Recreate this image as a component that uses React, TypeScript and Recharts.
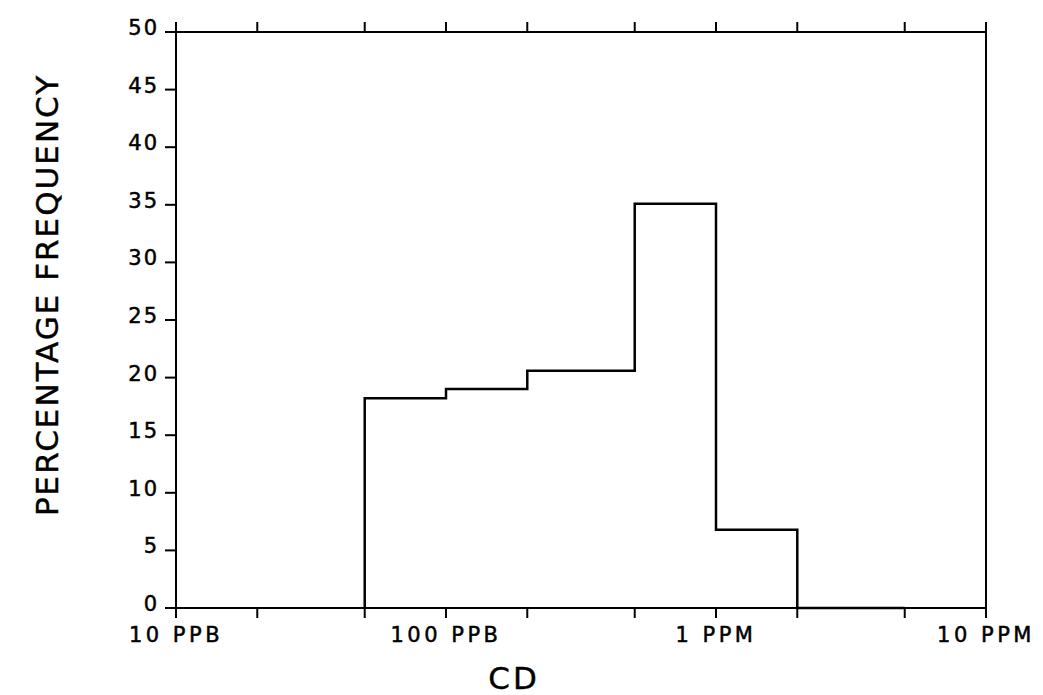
import React from "react";
import { ComposedChart, Line, XAxis, YAxis } from "recharts";

// bin edges in PPB and the percentage frequency of each bin
const binEdges = [50, 100, 200, 500, 1000, 2000, 5000];
const percentFreq = [18.2, 19.0, 20.6, 35.1, 6.8, 0];

const xTicks = [10, 20, 50, 100, 200, 500, 1000, 2000, 5000, 10000];
const majorTicks = [10, 100, 1000, 10000];
const majorLabels = ["10 PPB", "100 PPB", "1 PPM", "10 PPM"];
const yTicks = [0, 5, 10, 15, 20, 25, 30, 35, 40, 45, 50];

const stepData = [
  { x: binEdges[0], y: 0 },
  ...percentFreq.map((v, i) => ({ x: binEdges[i], y: v })),
  { x: binEdges[binEdges.length - 1], y: 0 },
];

const FONT = "'DejaVu Sans', sans-serif";

const XTick = (props: any) => {
  const { x, y, payload } = props;
  const idx = majorTicks.indexOf(payload.value);
  if (idx < 0) return <g />;
  return (
    <text
      x={x}
      y={y}
      dy={22}
      textAnchor="middle"
      fontFamily={FONT}
      fontSize={21}
      letterSpacing={3.5}
      fill="#000"
      stroke="#000"
      strokeWidth={0.5}
    >
      {majorLabels[idx]}
    </text>
  );
};

const YTick = (props: any) => {
  const { x, y, payload } = props;
  return (
    <text
      x={x}
      y={y}
      dy={3}
      textAnchor="end"
      fontFamily={FONT}
      fontSize={21}
      letterSpacing={2}
      fill="#000"
      stroke="#000"
      strokeWidth={0.5}
    >
      {payload.value}
    </text>
  );
};

const axisStyle = { stroke: "#000", strokeWidth: 2 };

export default function App() {
  return (
    <div style={{ width: 1027, height: 687, background: "#fff" }}>
      <ComposedChart
        width={1027}
        height={687}
        data={stepData}
        margin={{ top: 14, right: 29, bottom: 47, left: 108 }}
        style={{ overflow: "visible" }}
      >
        <XAxis
          dataKey="x"
          type="number"
          scale="log"
          domain={[10, 10000]}
          allowDataOverflow
          ticks={xTicks}
          interval={0}
          tick={<XTick />}
          tickSize={10}
          tickMargin={2}
          height={40}
          axisLine={axisStyle}
          tickLine={axisStyle}
          label={{
            content: (p: any) => {
              const vb = p.viewBox;
              return (
                <text
                  x={vb.x + 338}
                  y={vb.y + 81}
                  textAnchor="middle"
                  fontFamily={FONT}
                  fontSize={31}
                  letterSpacing={3}
                  fill="#000"
                  stroke="#000"
                  strokeWidth={0.4}
                >
                  CD
                </text>
              );
            },
          }}
        />
        <XAxis
          xAxisId="top"
          orientation="top"
          dataKey="x"
          type="number"
          scale="log"
          domain={[10, 10000]}
          allowDataOverflow
          ticks={xTicks}
          interval={0}
          tickFormatter={() => ""}
          tickSize={10}
          height={10}
          axisLine={axisStyle}
          tickLine={axisStyle}
        />
        <YAxis
          type="number"
          domain={[0, 50]}
          ticks={yTicks}
          interval={0}
          tick={<YTick />}
          tickSize={11}
          tickMargin={6}
          width={60}
          axisLine={axisStyle}
          tickLine={axisStyle}
          label={{
            content: (p: any) => {
              const vb = p.viewBox;
              const cx = vb.x - 69;
              const cy = vb.y + 263;
              return (
                <text
                  x={cx}
                  y={cy}
                  transform={`rotate(-90 ${cx} ${cy})`}
                  dy={11}
                  textAnchor="middle"
                  fontFamily={FONT}
                  fontSize={31}
                  letterSpacing={2}
                  fill="#000"
                  stroke="#000"
                  strokeWidth={0.4}
                >
                  PERCENTAGE FREQUENCY
                </text>
              );
            },
          }}
        />
        <YAxis
          yAxisId="right"
          orientation="right"
          type="number"
          domain={[0, 50]}
          ticks={yTicks}
          interval={0}
          tickFormatter={() => ""}
          tickSize={11}
          width={20}
          axisLine={axisStyle}
          tickLine={axisStyle}
        />
        <Line
          dataKey="y"
          type="stepAfter"
          stroke="#000"
          strokeWidth={2.5}
          dot={false}
          activeDot={false}
          isAnimationActive={false}
        />
      </ComposedChart>
    </div>
  );
}
